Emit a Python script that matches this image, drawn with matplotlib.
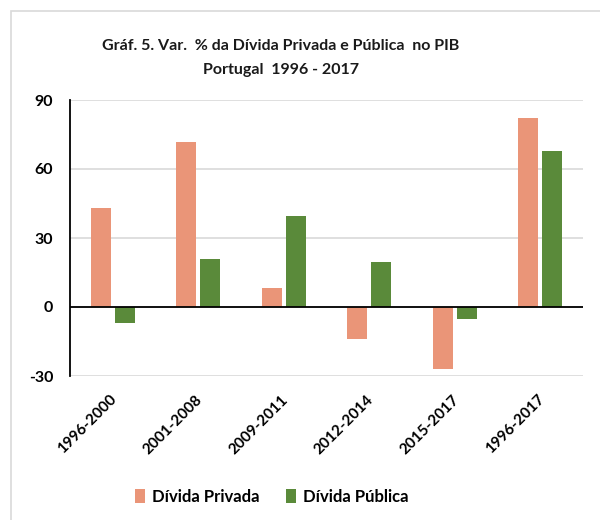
import numpy as np
import matplotlib.pyplot as plt
from matplotlib.patches import Rectangle
from matplotlib.transforms import ScaledTranslation

periodos = ['1996-2000', '2001-2008', '2009-2011', '2012-2014', '2015-2017', '1996-2017']
divida_privada = [43, 71.6, 8.1, -13.8, -27.1, 82.2]
divida_publica = [-7.1, 20.9, 39.6, 19.4, -5.1, 67.7]

cor_privada = '#EA9578'
cor_publica = '#5A8A3A'

plt.rcParams['font.family'] = ['Lato', 'DejaVu Sans']
plt.rcParams['axes.unicode_minus'] = False

fig = plt.figure(figsize=(6, 5.2), dpi=100)
W, H = 600, 520

# moldura clara do gráfico (estilo Excel)
fig.patches.append(Rectangle((11 / W, -0.1), 1.2, 1 - 11 / H + 0.1,
                             transform=fig.transFigure, fill=False,
                             edgecolor='#d9d9d9', linewidth=1.2))

ax = fig.add_axes([70 / W, 1 - 376 / H, (583 - 70) / W, (376 - 100) / H])

x = np.arange(len(periodos))
larg = 0.23
ax.bar(x - 0.14, divida_privada, larg, color=cor_privada, label='Dívida Privada', zorder=3)
ax.bar(x + 0.14, divida_publica, larg, color=cor_publica, label='Dívida Pública', zorder=3)

ax.set_xlim(-0.5, len(periodos) - 0.5)
ax.set_ylim(-30, 90)
ax.set_yticks([-30, 0, 30, 60, 90])
ax.yaxis.grid(True, color='#d9d9d9', linewidth=1.2, zorder=0)
ax.axhline(0, color='black', linewidth=1.3, zorder=4)

for s in ['top', 'right', 'bottom']:
    ax.spines[s].set_visible(False)
ax.spines['left'].set_linewidth(1.3)

ax.tick_params(axis='y', length=0, pad=12, labelsize=11.5)
ax.tick_params(axis='x', length=0, pad=14, labelsize=11)
for t in ax.get_yticklabels():
    t.set_fontweight('bold')

ax.set_xticks(x)
ax.set_xticklabels(periodos, rotation=45, ha='right', va='center',
                   rotation_mode='anchor', fontweight='bold')
for t in ax.get_xticklabels():
    t.set_transform(t.get_transform() + ScaledTranslation(2 / 100, -2 / 100, fig.dpi_scale_trans))

fig.text(281 / W, 1 - 46 / H, 'Gráf. 5. Var.  % da Dívida Privada e Pública  no PIB',
         ha='center', va='center', fontsize=11.5, fontweight='bold', color='#1a1a1a')
fig.text(281 / W, 1 - 70 / H, 'Portugal  1996 - 2017',
         ha='center', va='center', fontsize=11.5, fontweight='bold', color='#1a1a1a')

fig.legend(loc='center', bbox_to_anchor=(272 / W, 1 - 497 / H), ncol=2, frameon=False,
           prop={'weight': 'bold', 'size': 12}, handlelength=0.6, handleheight=0.9,
           handletextpad=0.4, columnspacing=1.6)

fig.savefig('out.png', dpi=100)
